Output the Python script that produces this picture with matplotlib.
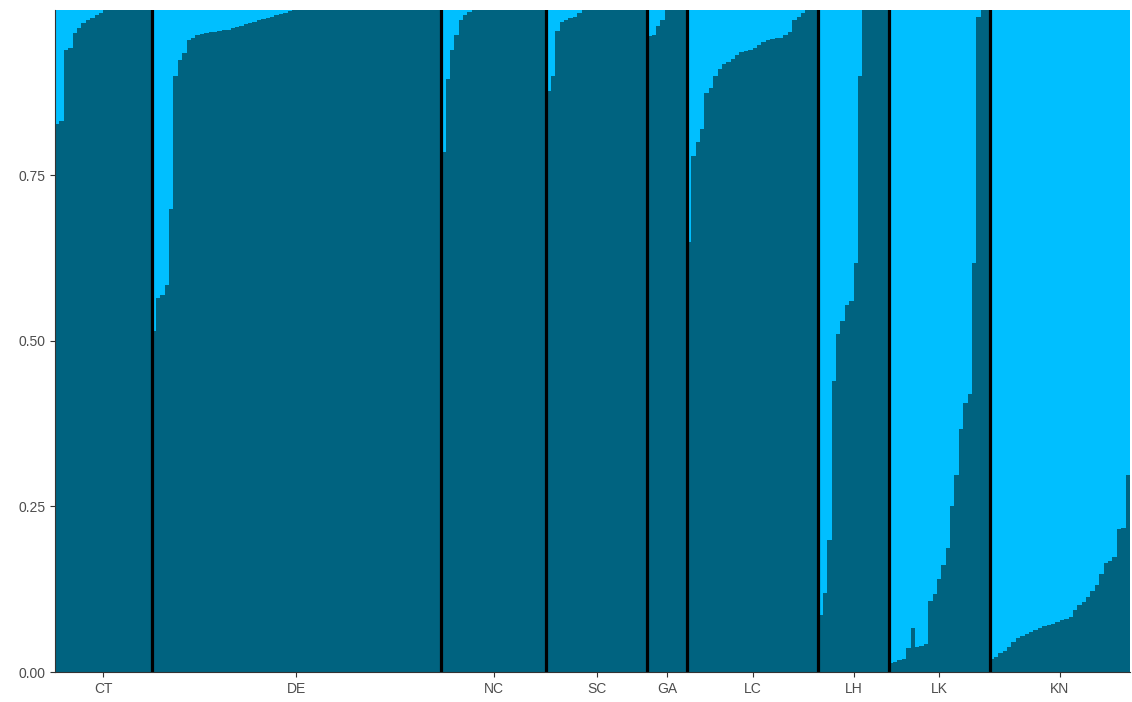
import matplotlib.pyplot as plt
import numpy as np

plt.rcParams['font.family'] = ['Liberation Sans', 'DejaVu Sans']

# population labels, in plotting order
pops = ['CT', 'DE', 'NC', 'SC', 'GA', 'LC', 'LH', 'LK', 'KN']

# ancestry proportion of the dark cluster per individual, sorted within population
ct = [0.828, 0.832, 0.94, 0.942, 0.965, 0.973, 0.98, 0.985, 0.988, 0.992, 0.995] + [1.0] * 11
de = [0.515, 0.565, 0.57, 0.585, 0.70, 0.90, 0.925, 0.935, 0.955, 0.958, 0.962,
      0.963, 0.965, 0.966, 0.967, 0.968, 0.969, 0.970, 0.972, 0.974,
      0.976, 0.978, 0.980, 0.982, 0.984, 0.986, 0.988, 0.990, 0.992, 0.994, 0.996, 0.998] + [1.0] * 34
nc = [0.786, 0.895, 0.94, 0.962, 0.985, 0.993, 0.997] + [1.0] * 17
sc = [0.877, 0.90, 0.968, 0.982, 0.985, 0.988, 0.99, 0.995] + [1.0] * 15
ga = [0.96, 0.962, 0.975, 0.985, 1.0, 1.0, 1.0, 1.0, 1.0]
lc = [0.65, 0.78, 0.80, 0.82, 0.875, 0.882, 0.90, 0.91, 0.918, 0.922, 0.926, 0.932,
      0.936, 0.938, 0.940, 0.942, 0.947, 0.952, 0.954, 0.956, 0.957, 0.958, 0.962,
      0.966, 0.985, 0.99, 0.995, 1.0, 1.0, 1.0]
lh = [0.086, 0.12, 0.20, 0.44, 0.51, 0.53, 0.555, 0.56, 0.617, 0.90] + [1.0] * 6
lk = [0.013, 0.015, 0.018, 0.02, 0.036, 0.066, 0.038, 0.04, 0.042, 0.108, 0.118,
      0.14, 0.162, 0.188, 0.25, 0.298, 0.367, 0.406, 0.42, 0.617, 0.99, 1.0, 1.0]
kn = [0.02, 0.023, 0.028, 0.032, 0.038, 0.046, 0.051, 0.055, 0.058, 0.061, 0.063,
      0.066, 0.069, 0.071, 0.073, 0.075, 0.078, 0.08, 0.083, 0.093, 0.101, 0.106,
      0.113, 0.123, 0.131, 0.148, 0.165, 0.167, 0.174, 0.216, 0.218, 0.297]

groups = [ct, de, nc, sc, ga, lc, lh, lk, kn]

dark_col = '#006380'
light_col = '#00BFFF'
text_col = '#4D4D4D'

q1 = np.concatenate([np.array(g) for g in groups])
q2 = 1 - q1
x = np.arange(1, len(q1) + 1)
sizes = np.array([len(g) for g in groups])
ends = np.cumsum(sizes)
starts = ends - sizes
centers = starts + (sizes + 1) / 2

fig = plt.figure(figsize=(11.32, 7.02), dpi=100)
ax = fig.add_axes([0.0486, 0.0427, 0.9496, 0.9431])

ax.bar(x, q1, width=1.0, color=dark_col, linewidth=0)
ax.bar(x, q2, bottom=q1, width=1.0, color=light_col, linewidth=0)

# population boundaries
for b in ends[:-1]:
    ax.axvline(b + 0.5, color='black', linewidth=2.3)

ax.set_xlim(0.5, len(q1) + 0.5)
ax.set_ylim(0, 0.9999)
ax.set_yticks([0, 0.25, 0.5, 0.75])
ax.set_yticklabels(['0.00', '0.25', '0.50', '0.75'])
ax.set_xticks(centers)
ax.set_xticklabels(pops)

ax.tick_params(axis='both', colors='#333333', labelcolor=text_col, labelsize=10,
               length=3.5, width=0.8)
for s in ['left', 'bottom']:
    ax.spines[s].set_color('#333333')
    ax.spines[s].set_linewidth(0.8)
for s in ['top', 'right']:
    ax.spines[s].set_visible(False)

fig.savefig('out.png', dpi=100)
